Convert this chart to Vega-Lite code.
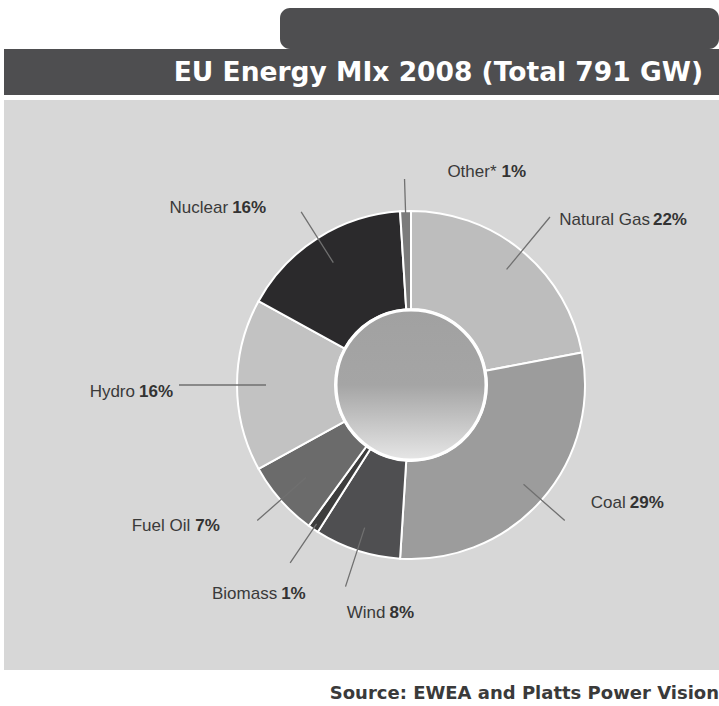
{
  "$schema": "https://vega.github.io/schema/vega-lite/v6.json",
  "background": "white",
  "padding": {"left": 4, "top": 8, "right": 0, "bottom": 0},
  "config": {"view": {"stroke": null}},
  "datasets": {
    "mix": [
      {"source": "Natural Gas", "share": 0.22},
      {"source": "Coal", "share": 0.29},
      {"source": "Wind", "share": 0.08},
      {"source": "Biomass", "share": 0.01},
      {"source": "Fuel Oil", "share": 0.07},
      {"source": "Hydro", "share": 0.16},
      {"source": "Nuclear", "share": 0.16},
      {"source": "Other*", "share": 0.01}
    ]
  },
  "title": {"text": "Source: EWEA and Platts Power Vision", "orient": "bottom", "anchor": "end", "offset": 15, "font": "DejaVu Sans", "fontSize": 18, "fontWeight": "bold", "color": "#3a3a3a"},
  "spacing": 0,
  "vconcat": [
    {
      "spacing": 0, "bounds": "flush",
      "hconcat": [
        {"width": 276, "height": 41, "data": {"values": []}, "mark": "text"},
        {"width": 439, "height": 41, "view": {"fill": "#4e4e50", "stroke": null, "cornerRadius": 10}, "data": {"values": []}, "mark": "text"}
      ]
    },
    {
      "width": 715, "height": 46,
      "view": {"fill": "#4e4e50", "stroke": null},
      "data": {"values": [{"label": "EU Energy MIx 2008 (Total 791 GW)"}]},
      "mark": {"type": "text", "align": "right", "baseline": "alphabetic", "dx": -16, "dy": -14, "font": "DejaVu Sans", "fontSize": 26.5, "fontWeight": "bold", "color": "#ffffff"},
      "encoding": {"text": {"field": "label", "type": "nominal"}, "x": {"value": "width"}, "y": {"value": "height"}}
    },
    {"width": 715, "height": 5, "data": {"values": []}, "mark": "text"},
    {
      "spacing": 0,
      "bounds": "flush",
      "hconcat": [
        {
          "width": 99, "height": 570,
          "view": {"fill": "#d7d7d7", "stroke": null},
          "data": {"values": []},
          "mark": "text"
        },
        {
          "width": 616, "height": 570,
          "view": {"fill": "#d7d7d7", "stroke": null},
          "data": {"name": "mix"},
          "transform": [{"window": [{"op": "row_number", "as": "idx"}]}],
          "layer": [
            {
              "mark": {"type": "arc", "outerRadius": 174, "innerRadius": 76, "stroke": "#ffffff", "strokeWidth": 2},
              "encoding": {
                "theta": {"field": "share", "type": "quantitative", "stack": true},
                "order": {"field": "idx", "type": "quantitative"},
                "color": {"field": "source", "type": "nominal", "legend": null,
                  "scale": {"domain": ["Natural Gas", "Coal", "Wind", "Biomass", "Fuel Oil", "Hydro", "Nuclear", "Other*"],
                            "range": ["#bdbdbd", "#9c9c9c", "#4f4f51", "#3d3d3d", "#6b6b6b", "#c2c2c2", "#2b2a2c", "#7b7b7b"]}}
              }
            },
            {
              "transform": [{"aggregate": [{"op": "sum", "field": "share", "as": "total"}]}],
              "mark": {"type": "arc", "outerRadius": 75, "innerRadius": 0, "stroke": "#ffffff", "strokeWidth": 3,
                "fill": {"gradient": "linear", "x1": 0, "y1": 0, "x2": 0, "y2": 1,
                  "stops": [{"offset": 0, "color": "#a1a1a1"}, {"offset": 0.5, "color": "#a5a5a5"}, {"offset": 1, "color": "#e6e6e6"}]}},
              "encoding": {"theta": {"field": "total", "type": "quantitative", "stack": true}}
            },
            {"mark": {"type": "arc", "outerRadius": 218, "innerRadius": 150, "padAngle": 3.14, "filled": false, "stroke": "#707070", "strokeWidth": 1.3},
             "encoding": {"theta": {"field": "share", "type": "quantitative", "stack": true}, "order": {"field": "idx", "type": "quantitative"}, "detail": {"field": "source", "type": "nominal"},
               "opacity": {"condition": {"test": "datum.source === 'Natural Gas'", "value": 1}, "value": 0}}},
            {"mark": {"type": "arc", "outerRadius": 205, "innerRadius": 150, "padAngle": 3.14, "filled": false, "stroke": "#707070", "strokeWidth": 1.3},
             "encoding": {"theta": {"field": "share", "type": "quantitative", "stack": true}, "order": {"field": "idx", "type": "quantitative"}, "detail": {"field": "source", "type": "nominal"},
               "opacity": {"condition": {"test": "datum.source === 'Coal'", "value": 1}, "value": 0}}},
            {"mark": {"type": "arc", "outerRadius": 212, "innerRadius": 150, "padAngle": 3.14, "filled": false, "stroke": "#707070", "strokeWidth": 1.3},
             "encoding": {"theta": {"field": "share", "type": "quantitative", "stack": true}, "order": {"field": "idx", "type": "quantitative"}, "detail": {"field": "source", "type": "nominal"},
               "opacity": {"condition": {"test": "datum.source === 'Wind'", "value": 1}, "value": 0}}},
            {"mark": {"type": "arc", "outerRadius": 215, "innerRadius": 168, "padAngle": 3.14, "filled": false, "stroke": "#707070", "strokeWidth": 1.3},
             "encoding": {"theta": {"field": "share", "type": "quantitative", "stack": true}, "order": {"field": "idx", "type": "quantitative"}, "detail": {"field": "source", "type": "nominal"},
               "opacity": {"condition": {"test": "datum.source === 'Biomass'", "value": 1}, "value": 0}}},
            {"mark": {"type": "arc", "outerRadius": 205, "innerRadius": 140, "padAngle": 3.14, "filled": false, "stroke": "#707070", "strokeWidth": 1.3},
             "encoding": {"theta": {"field": "share", "type": "quantitative", "stack": true}, "order": {"field": "idx", "type": "quantitative"}, "detail": {"field": "source", "type": "nominal"},
               "opacity": {"condition": {"test": "datum.source === 'Fuel Oil'", "value": 1}, "value": 0}}},
            {"mark": {"type": "arc", "outerRadius": 232, "innerRadius": 145, "padAngle": 3.14, "filled": false, "stroke": "#707070", "strokeWidth": 1.3},
             "encoding": {"theta": {"field": "share", "type": "quantitative", "stack": true}, "order": {"field": "idx", "type": "quantitative"}, "detail": {"field": "source", "type": "nominal"},
               "opacity": {"condition": {"test": "datum.source === 'Hydro'", "value": 1}, "value": 0}}},
            {"mark": {"type": "arc", "outerRadius": 205, "innerRadius": 145, "padAngle": 3.14, "filled": false, "stroke": "#707070", "strokeWidth": 1.3},
             "encoding": {"theta": {"field": "share", "type": "quantitative", "stack": true}, "order": {"field": "idx", "type": "quantitative"}, "detail": {"field": "source", "type": "nominal"},
               "opacity": {"condition": {"test": "datum.source === 'Nuclear'", "value": 1}, "value": 0}}},
            {"mark": {"type": "arc", "outerRadius": 206, "innerRadius": 172, "padAngle": 3.14, "filled": false, "stroke": "#707070", "strokeWidth": 1.3},
             "encoding": {"theta": {"field": "share", "type": "quantitative", "stack": true}, "order": {"field": "idx", "type": "quantitative"}, "detail": {"field": "source", "type": "nominal"},
               "opacity": {"condition": {"test": "datum.source === 'Other*'", "value": 1}, "value": 0}}},

            {"mark": {"type": "text", "radius": 218, "align": "right", "baseline": "middle", "dx": 100, "dy": 3, "font": "Liberation Sans", "fontSize": 17, "color": "#3a3a3a"},
             "encoding": {"theta": {"field": "share", "type": "quantitative", "stack": true}, "order": {"field": "idx", "type": "quantitative"}, "detail": {"field": "source", "type": "nominal"},
               "text": {"condition": {"test": "datum.source === 'Natural Gas'", "field": "source", "type": "nominal"}, "value": ""}}},
            {"mark": {"type": "text", "radius": 218, "align": "left", "baseline": "middle", "dx": 103, "dy": 3, "font": "Liberation Sans", "fontSize": 17, "fontWeight": "bold", "color": "#333333"},
             "encoding": {"theta": {"field": "share", "type": "quantitative", "stack": true}, "order": {"field": "idx", "type": "quantitative"}, "detail": {"field": "source", "type": "nominal"},
               "text": {"condition": {"test": "datum.source === 'Natural Gas'", "field": "share", "type": "quantitative", "format": ".0%"}, "value": ""}}},

            {"mark": {"type": "text", "radius": 205, "align": "right", "baseline": "middle", "dx": 61, "dy": -18, "font": "Liberation Sans", "fontSize": 17, "color": "#3a3a3a"},
             "encoding": {"theta": {"field": "share", "type": "quantitative", "stack": true}, "order": {"field": "idx", "type": "quantitative"}, "detail": {"field": "source", "type": "nominal"},
               "text": {"condition": {"test": "datum.source === 'Coal'", "field": "source", "type": "nominal"}, "value": ""}}},
            {"mark": {"type": "text", "radius": 205, "align": "left", "baseline": "middle", "dx": 65, "dy": -18, "font": "Liberation Sans", "fontSize": 17, "fontWeight": "bold", "color": "#333333"},
             "encoding": {"theta": {"field": "share", "type": "quantitative", "stack": true}, "order": {"field": "idx", "type": "quantitative"}, "detail": {"field": "source", "type": "nominal"},
               "text": {"condition": {"test": "datum.source === 'Coal'", "field": "share", "type": "quantitative", "format": ".0%"}, "value": ""}}},

            {"mark": {"type": "text", "radius": 212, "align": "right", "baseline": "middle", "dx": 40, "dy": 26, "font": "Liberation Sans", "fontSize": 17, "color": "#3a3a3a"},
             "encoding": {"theta": {"field": "share", "type": "quantitative", "stack": true}, "order": {"field": "idx", "type": "quantitative"}, "detail": {"field": "source", "type": "nominal"},
               "text": {"condition": {"test": "datum.source === 'Wind'", "field": "source", "type": "nominal"}, "value": ""}}},
            {"mark": {"type": "text", "radius": 212, "align": "left", "baseline": "middle", "dx": 44, "dy": 26, "font": "Liberation Sans", "fontSize": 17, "fontWeight": "bold", "color": "#333333"},
             "encoding": {"theta": {"field": "share", "type": "quantitative", "stack": true}, "order": {"field": "idx", "type": "quantitative"}, "detail": {"field": "source", "type": "nominal"},
               "text": {"condition": {"test": "datum.source === 'Wind'", "field": "share", "type": "quantitative", "format": ".0%"}, "value": ""}}},

            {"mark": {"type": "text", "radius": 215, "align": "right", "baseline": "middle", "dx": -13, "dy": 31, "font": "Liberation Sans", "fontSize": 17, "color": "#3a3a3a"},
             "encoding": {"theta": {"field": "share", "type": "quantitative", "stack": true}, "order": {"field": "idx", "type": "quantitative"}, "detail": {"field": "source", "type": "nominal"},
               "text": {"condition": {"test": "datum.source === 'Biomass'", "field": "source", "type": "nominal"}, "value": ""}}},
            {"mark": {"type": "text", "radius": 215, "align": "left", "baseline": "middle", "dx": -9, "dy": 31, "font": "Liberation Sans", "fontSize": 17, "fontWeight": "bold", "color": "#333333"},
             "encoding": {"theta": {"field": "share", "type": "quantitative", "stack": true}, "order": {"field": "idx", "type": "quantitative"}, "detail": {"field": "source", "type": "nominal"},
               "text": {"condition": {"test": "datum.source === 'Biomass'", "field": "share", "type": "quantitative", "format": ".0%"}, "value": ""}}},

            {"mark": {"type": "text", "radius": 205, "align": "right", "baseline": "middle", "dx": -67, "dy": 5, "font": "Liberation Sans", "fontSize": 17, "color": "#3a3a3a"},
             "encoding": {"theta": {"field": "share", "type": "quantitative", "stack": true}, "order": {"field": "idx", "type": "quantitative"}, "detail": {"field": "source", "type": "nominal"},
               "text": {"condition": {"test": "datum.source === 'Fuel Oil'", "field": "source", "type": "nominal"}, "value": ""}}},
            {"mark": {"type": "text", "radius": 205, "align": "left", "baseline": "middle", "dx": -62, "dy": 5, "font": "Liberation Sans", "fontSize": 17, "fontWeight": "bold", "color": "#333333"},
             "encoding": {"theta": {"field": "share", "type": "quantitative", "stack": true}, "order": {"field": "idx", "type": "quantitative"}, "detail": {"field": "source", "type": "nominal"},
               "text": {"condition": {"test": "datum.source === 'Fuel Oil'", "field": "share", "type": "quantitative", "format": ".0%"}, "value": ""}}},

            {"mark": {"type": "text", "radius": 232, "align": "right", "baseline": "middle", "dx": -44, "dy": 7, "font": "Liberation Sans", "fontSize": 17, "color": "#3a3a3a"},
             "encoding": {"theta": {"field": "share", "type": "quantitative", "stack": true}, "order": {"field": "idx", "type": "quantitative"}, "detail": {"field": "source", "type": "nominal"},
               "text": {"condition": {"test": "datum.source === 'Hydro'", "field": "source", "type": "nominal"}, "value": ""}}},
            {"mark": {"type": "text", "radius": 232, "align": "left", "baseline": "middle", "dx": -40, "dy": 7, "font": "Liberation Sans", "fontSize": 17, "fontWeight": "bold", "color": "#333333"},
             "encoding": {"theta": {"field": "share", "type": "quantitative", "stack": true}, "order": {"field": "idx", "type": "quantitative"}, "detail": {"field": "source", "type": "nominal"},
               "text": {"condition": {"test": "datum.source === 'Hydro'", "field": "share", "type": "quantitative", "format": ".0%"}, "value": ""}}},

            {"mark": {"type": "text", "radius": 205, "align": "right", "baseline": "middle", "dx": -73, "dy": -4, "font": "Liberation Sans", "fontSize": 17, "color": "#3a3a3a"},
             "encoding": {"theta": {"field": "share", "type": "quantitative", "stack": true}, "order": {"field": "idx", "type": "quantitative"}, "detail": {"field": "source", "type": "nominal"},
               "text": {"condition": {"test": "datum.source === 'Nuclear'", "field": "source", "type": "nominal"}, "value": ""}}},
            {"mark": {"type": "text", "radius": 205, "align": "left", "baseline": "middle", "dx": -69, "dy": -4, "font": "Liberation Sans", "fontSize": 17, "fontWeight": "bold", "color": "#333333"},
             "encoding": {"theta": {"field": "share", "type": "quantitative", "stack": true}, "order": {"field": "idx", "type": "quantitative"}, "detail": {"field": "source", "type": "nominal"},
               "text": {"condition": {"test": "datum.source === 'Nuclear'", "field": "share", "type": "quantitative", "format": ".0%"}, "value": ""}}},

            {"mark": {"type": "text", "radius": 206, "align": "right", "baseline": "middle", "dx": 92, "dy": -7, "font": "Liberation Sans", "fontSize": 17, "color": "#3a3a3a"},
             "encoding": {"theta": {"field": "share", "type": "quantitative", "stack": true}, "order": {"field": "idx", "type": "quantitative"}, "detail": {"field": "source", "type": "nominal"},
               "text": {"condition": {"test": "datum.source === 'Other*'", "field": "source", "type": "nominal"}, "value": ""}}},
            {"mark": {"type": "text", "radius": 206, "align": "left", "baseline": "middle", "dx": 97, "dy": -7, "font": "Liberation Sans", "fontSize": 17, "fontWeight": "bold", "color": "#333333"},
             "encoding": {"theta": {"field": "share", "type": "quantitative", "stack": true}, "order": {"field": "idx", "type": "quantitative"}, "detail": {"field": "source", "type": "nominal"},
               "text": {"condition": {"test": "datum.source === 'Other*'", "field": "share", "type": "quantitative", "format": ".0%"}, "value": ""}}}
          ]
        }
      ]
    }
  ]
}
